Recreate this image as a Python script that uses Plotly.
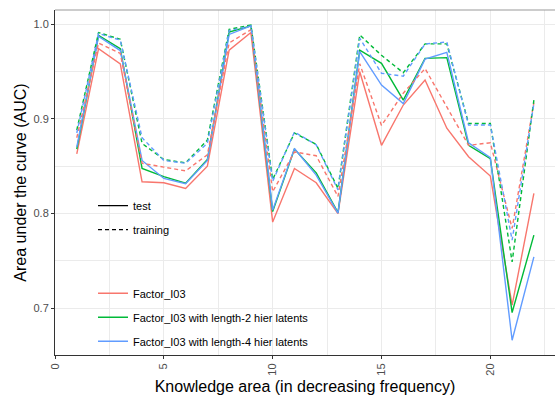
import plotly.graph_objects as go

areas = list(range(1, 23))

factor_test = [0.863, 0.974, 0.958, 0.8335, 0.8325, 0.8265, 0.850, 0.9725, 0.991, 0.791, 0.8476,
               0.8325, 0.800, 0.9497, 0.872, 0.9145, 0.941, 0.890, 0.860, 0.8395, 0.7033, 0.8212]
factor_train = [0.880, 0.980, 0.969, 0.853, 0.849, 0.845, 0.862, 0.980, 0.994, 0.823, 0.865,
                0.861, 0.818, 0.958, 0.893, 0.927, 0.953, 0.9127, 0.872, 0.8747, 0.7843, 0.917]
len2_test = [0.868, 0.988, 0.974, 0.8476, 0.839, 0.832, 0.857, 0.9915, 0.998, 0.802, 0.868,
             0.843, 0.801, 0.9725, 0.9585, 0.9197, 0.9638, 0.9645, 0.872, 0.858, 0.6955, 0.7772]
len2_train = [0.888, 0.991, 0.984, 0.874, 0.857, 0.8535, 0.8775, 0.9944, 0.999, 0.836, 0.885,
              0.873, 0.8265, 0.9884, 0.967, 0.9486, 0.979, 0.979, 0.895, 0.895, 0.749, 0.9197]
len4_test = [0.870, 0.987, 0.972, 0.856, 0.837, 0.8315, 0.856, 0.989, 0.998, 0.8036, 0.8687,
             0.8405, 0.8005, 0.9708, 0.9355, 0.916, 0.963, 0.970, 0.8747, 0.859, 0.6663, 0.7543]
len4_train = [0.885, 0.990, 0.983, 0.880, 0.856, 0.853, 0.874, 0.993, 0.998, 0.834, 0.886,
              0.8725, 0.825, 0.985, 0.948, 0.945, 0.979, 0.981, 0.8933, 0.8935, 0.772, 0.916]

model_names = ["Factor_I03", "Factor_I03 with length-2 hier latents",
               "Factor_I03 with length-4 hier latents"]
colors = ["#F8766D", "#00BA38", "#619CFF"]
tests = [factor_test, len2_test, len4_test]
trains = [factor_train, len2_train, len4_train]

FONT = "Liberation Sans, Arial, sans-serif"
DASH = "4px,3px"

fig = go.Figure()

# linetype legend
fig.add_trace(go.Scatter(x=[None], y=[None], mode="lines", name="test",
                         line=dict(color="black", width=1.4), legend="legend",
                         legendgroup="lt1"))
fig.add_trace(go.Scatter(x=[None], y=[None], mode="lines", name="training",
                         line=dict(color="black", width=1.4, dash=DASH), legend="legend",
                         legendgroup="lt2"))

for i, (name, c) in enumerate(zip(model_names, colors)):
    fig.add_trace(go.Scatter(x=areas, y=tests[i], mode="lines", name=name,
                             line=dict(color=c, width=1.4), legend="legend2",
                             legendgroup="m%d" % i))
for i, (name, c) in enumerate(zip(model_names, colors)):
    fig.add_trace(go.Scatter(x=areas, y=trains[i], mode="lines", name=name,
                             line=dict(color=c, width=1.4, dash=DASH), legend="legend2",
                             legendgroup="m%d" % i, showlegend=False))

fig.update_layout(
    width=555, height=396,
    margin=dict(l=55, r=0, t=10, b=41),
    paper_bgcolor="white", plot_bgcolor="white",
    font=dict(family=FONT, size=11, color="black"),
    showlegend=True,
    legend=dict(x=0.076, y=0.475, xanchor="left", yanchor="top",
                bgcolor="rgba(0,0,0,0)", tracegroupgap=5, traceorder="grouped",
                font=dict(size=11, color="black", family=FONT)),
    legend2=dict(x=0.076, y=0.221, xanchor="left", yanchor="top",
                 bgcolor="rgba(0,0,0,0)", tracegroupgap=5, traceorder="grouped",
                 font=dict(size=11, color="black", family=FONT)),
)

fig.update_xaxes(
    automargin=False,
    range=[0, 22.97], tickmode="array", tickvals=[0, 5, 10, 15, 20],
    ticks="outside", ticklen=3, tickcolor="#333333", tickangle=-90,
    tickfont=dict(size=11, color="#4D4D4D", family=FONT),
    showline=True, linecolor="#333333", linewidth=1,
    showgrid=True, gridcolor="#EBEBEB", gridwidth=1.1,
    minor=dict(tickvals=[2.5, 7.5, 12.5, 17.5, 22.5], showgrid=True,
               gridcolor="#EBEBEB", gridwidth=0.55),
    zeroline=False,
    title=dict(text="Knowledge area (in decreasing frequency)",
               font=dict(size=16, family=FONT, color="black"), standoff=6),
)
fig.update_yaxes(
    automargin=False,
    range=[0.6507, 1.0148], tickmode="array", tickvals=[0.7, 0.8, 0.9, 1.0],
    ticktext=["0.7", "0.8", "0.9", "1.0"],
    ticks="outside", ticklen=3, tickcolor="#333333",
    tickfont=dict(size=11, color="#4D4D4D", family=FONT),
    showline=True, linecolor="#333333", linewidth=1,
    showgrid=True, gridcolor="#EBEBEB", gridwidth=1.1,
    minor=dict(tickvals=[0.65, 0.75, 0.85, 0.95], showgrid=True,
               gridcolor="#EBEBEB", gridwidth=0.55),
    zeroline=False,
    title=dict(text="Area under the curve (AUC)",
               font=dict(size=16, family=FONT, color="black"), standoff=2),
)

# top panel border
fig.add_shape(type="line", xref="paper", yref="paper", x0=0, x1=1, y0=1, y1=1,
              line=dict(color="#999999", width=1.2))

fig.write_html("out.html", config={"displayModeBar": False},
               post_script="document.body.style.margin='0';document.body.style.padding='0';")
